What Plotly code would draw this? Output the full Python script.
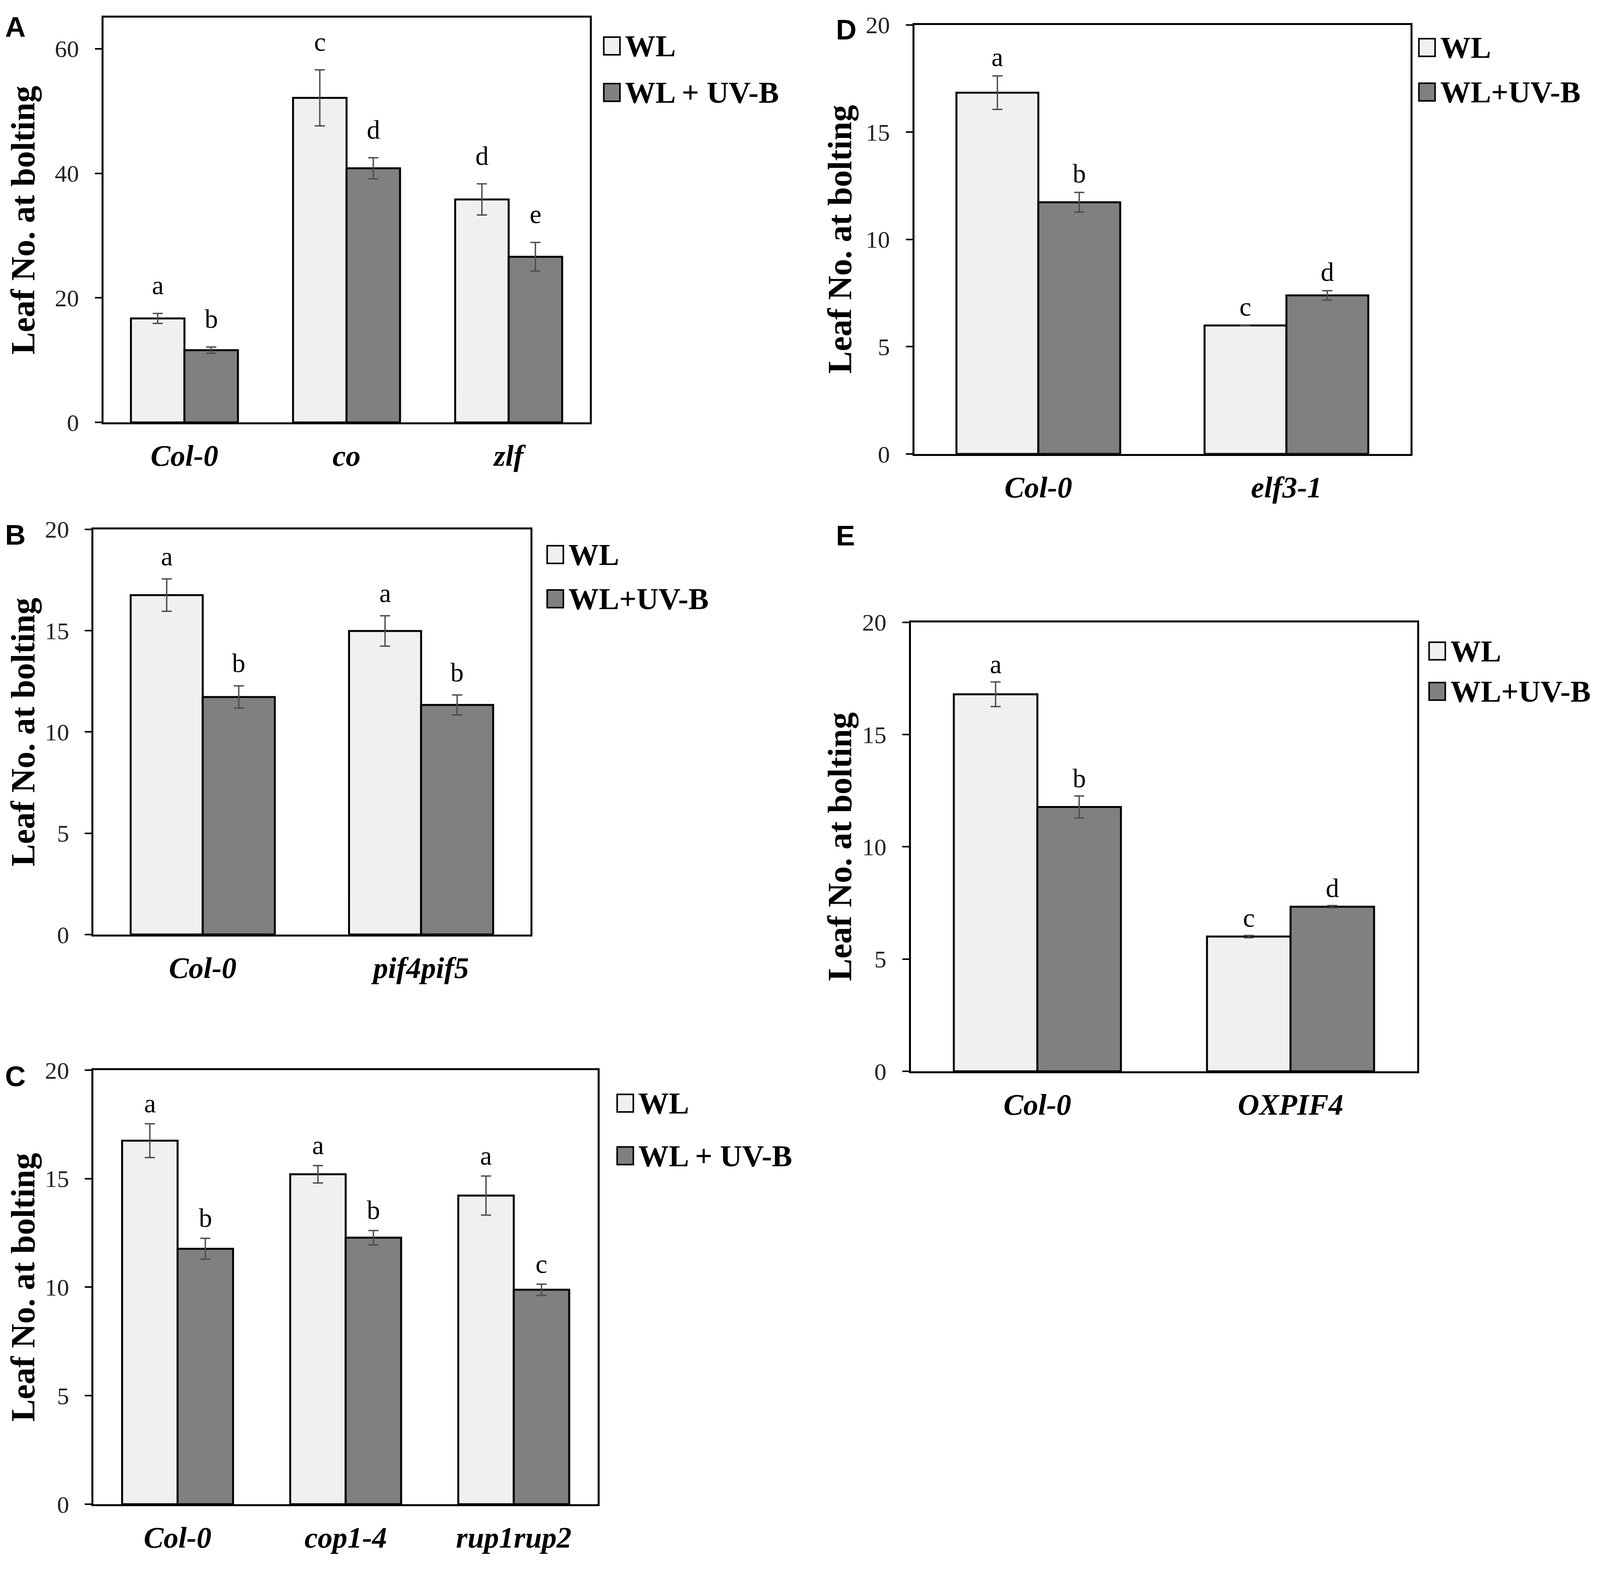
import plotly.graph_objects as go

# the page is 4096 px wide in the browser, so the figure is laid out to fit it
PAGE_W, PAGE_H = 4096, 4067
REF_W = 4550
BODY_MARGIN = 8
FW, FH = PAGE_W - 2 * BODY_MARGIN, PAGE_H - 2 * BODY_MARGIN
SX = PAGE_W / REF_W

# ---- data ----
# A
a_genotypes = ["Col-0", "co", "zlf"]
a_wl = [16.7, 52.1, 35.8]
a_wl_err = [0.8, 4.5, 2.5]
a_uvb = [11.6, 40.8, 26.6]
a_uvb_err = [0.5, 1.7, 2.3]
a_wl_sig = ["a", "c", "d"]
a_uvb_sig = ["b", "d", "e"]

# B
b_genotypes = ["Col-0", "pif4pif5"]
b_wl = [16.75, 14.98]
b_wl_err = [0.8, 0.75]
b_uvb = [11.72, 11.33]
b_uvb_err = [0.55, 0.49]
b_wl_sig = ["a", "a"]
b_uvb_sig = ["b", "b"]

# C
c_genotypes = ["Col-0", "cop1-4", "rup1rup2"]
c_wl = [16.75, 15.2, 14.22]
c_wl_err = [0.78, 0.4, 0.9]
c_uvb = [11.77, 12.28, 9.88]
c_uvb_err = [0.48, 0.33, 0.26]
c_wl_sig = ["a", "a", "a"]
c_uvb_sig = ["b", "b", "c"]

# D
d_genotypes = ["Col-0", "elf3-1"]
d_wl = [16.84, 5.99]
d_wl_err = [0.78, 0.0]
d_uvb = [11.73, 7.39]
d_uvb_err = [0.46, 0.22]
d_wl_sig = ["a", "c"]
d_uvb_sig = ["b", "d"]

# E
e_genotypes = ["Col-0", "OXPIF4"]
e_wl = [16.79, 6.0]
e_wl_err = [0.55, 0.05]
e_uvb = [11.77, 7.33]
e_uvb_err = [0.49, 0.05]
e_wl_sig = ["a", "c"]
e_uvb_sig = ["b", "d"]

WL_COLOR = "#f0f0f0"
UVB_COLOR = "#808080"
SERIF = "Liberation Serif"
BAR_GAP = 0.34


def px(x):
    # reference pixel x -> paper fraction
    return (x * SX - BODY_MARGIN) / FW


def py(y):
    # reference pixel y -> paper fraction
    return 1 - (y - BODY_MARGIN) / FH


# panel layout in reference pixels: plot box, y range/tick, legend spot, letter shift, label spot
panels = [
    dict(tag="A", cats=a_genotypes, wl=a_wl, wle=a_wl_err, uv=a_uvb, uve=a_uvb_err,
         wls=a_wl_sig, uvs=a_uvb_sig, box=(294, 1677, 12, 1066), yr=65, dt=20,
         leg=(1717, 86, 207), uvname="WL + UV-B", shift=72, lab=(12, 8), ytitle=66),
    dict(tag="B", cats=b_genotypes, wl=b_wl, wle=b_wl_err, uv=b_uvb, uve=b_uvb_err,
         wls=b_wl_sig, uvs=b_uvb_sig, box=(266, 1508, 1344, 2399), yr=20, dt=5,
         leg=(1556, 1410, 1525), uvname="WL+UV-B", shift=58, lab=(12, 1330), ytitle=66),
    dict(tag="C", cats=c_genotypes, wl=c_wl, wle=c_wl_err, uv=c_uvb, uve=c_uvb_err,
         wls=c_wl_sig, uvs=c_uvb_sig, box=(266, 1700, 2752, 3882), yr=20, dt=5,
         leg=(1755, 2838, 2975), uvname="WL + UV-B", shift=52, lab=(12, 2740), ytitle=66),
    dict(tag="D", cats=d_genotypes, wl=d_wl, wle=d_wl_err, uv=d_uvb, uve=d_uvb_err,
         wls=d_wl_sig, uvs=d_uvb_sig, box=(2600, 4011, 31, 1148), yr=20, dt=5,
         leg=(4035, 90, 206), uvname="WL+UV-B", shift=48, lab=(2375, 15), ytitle=2388),
    dict(tag="E", cats=e_genotypes, wl=e_wl, wle=e_wl_err, uv=e_uvb, uve=e_uvb_err,
         wls=e_wl_sig, uvs=e_uvb_sig, box=(2590, 4030, 1586, 2755), yr=20, dt=5,
         leg=(4064, 1661, 1766), uvname="WL+UV-B", shift=45, lab=(2375, 1332), ytitle=2388),
]

fig = go.Figure()
annotations = []
shapes = []
off = (1 - BAR_GAP) / 4

for n, p in enumerate(panels, start=1):
    sfx = "" if n == 1 else str(n)
    xa, ya = "x" + sfx, "y" + sfx
    for vals, errs, color in ((p["wl"], p["wle"], WL_COLOR), (p["uv"], p["uve"], UVB_COLOR)):
        fig.add_trace(go.Bar(
            x=p["cats"], y=vals, xaxis=xa, yaxis=ya, showlegend=False,
            marker=dict(color=color, line=dict(color="black", width=5)),
            error_y=dict(type="data", array=errs, color="#4d4d4d", thickness=3.5, width=13),
        ))
    x0, x1, y0, y1 = p["box"]
    common = dict(showline=True, linecolor="black", linewidth=5, mirror=True,
                  showgrid=False, zeroline=False)
    fig.update_layout(**{
        "xaxis" + sfx: dict(domain=[px(x0), px(x1)], anchor=ya, ticks="",
                            tickfont=dict(family=SERIF, size=76, color="black",
                                          weight="bold", style="italic"),
                            ticklabelstandoff=15, **common),
        "yaxis" + sfx: dict(domain=[py(y1), py(y0)], anchor=xa, range=[0, p["yr"]],
                            dtick=p["dt"], ticks="outside", ticklen=17, tickwidth=4,
                            tickcolor="black", ticklabelstandoff=28,
                            tickfont=dict(family=SERIF, size=62, color="#222222"), **common),
    })

    # significance letters above error bars
    for i in range(len(p["cats"])):
        for dx, vals, errs, sig in ((-off, p["wl"], p["wle"], p["wls"]),
                                    (off, p["uv"], p["uve"], p["uvs"])):
            annotations.append(dict(
                x=i + dx, y=vals[i] + errs[i], xref=xa, yref=ya, text=sig[i],
                showarrow=False, yanchor="middle", yshift=p["shift"],
                font=dict(family=SERIF, size=68, color="black")))

    # y axis title
    annotations.append(dict(
        x=px(p["ytitle"]), y=(py(y1) + py(y0)) / 2, xref="paper", yref="paper",
        text="Leaf No. at bolting", textangle=-90, showarrow=False,
        xanchor="center", yanchor="middle",
        font=dict(family=SERIF, size=86, color="black", weight="bold")))

    # panel label
    annotations.append(dict(
        x=px(p["lab"][0]), y=py(p["lab"][1] - 15), xref="paper", yref="paper",
        text=p["tag"], showarrow=False, xanchor="left", yanchor="top",
        font=dict(family="Liberation Sans", size=73, color="black", weight="bold")))

    # legend keys
    lx, wy, uy = p["leg"]
    for cy, color, name in ((wy, WL_COLOR, "WL"), (uy, UVB_COLOR, p["uvname"])):
        shapes.append(dict(type="rect", xref="paper", yref="paper",
                           x0=px(lx), x1=px(lx + 46), y0=py(cy + 23), y1=py(cy - 23),
                           fillcolor=color, line=dict(color="black", width=4)))
        annotations.append(dict(
            x=px(lx + 58), y=py(cy), xref="paper", yref="paper", text=name,
            showarrow=False, xanchor="left", yanchor="middle",
            font=dict(family=SERIF, size=78, color="black", weight="bold")))

fig.update_layout(
    width=FW, height=FH, margin=dict(l=0, r=0, t=0, b=0),
    paper_bgcolor="white", plot_bgcolor="white",
    barmode="group", bargap=BAR_GAP, bargroupgap=0,
    annotations=annotations, shapes=shapes,
)

fig.write_html("out.html")
